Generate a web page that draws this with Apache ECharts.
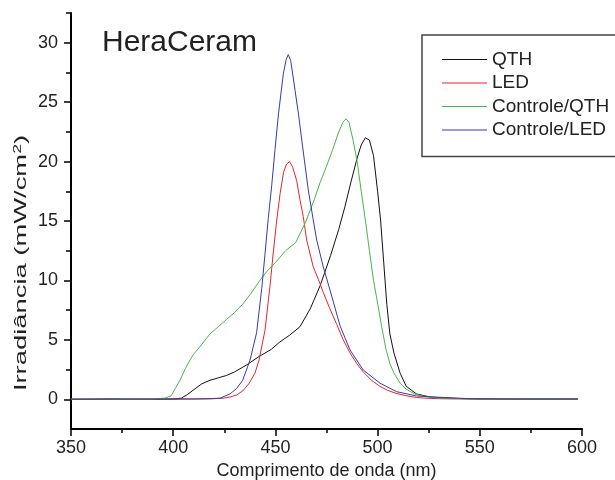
<!DOCTYPE html>
<html>
<head>
<meta charset="utf-8">
<script src="https://cdn.jsdelivr.net/npm/echarts@6/dist/echarts.min.js"></script>
<style>
  html, body { margin: 0; padding: 0; background: #fff; }
  #chart { width: 615px; height: 480px; }
</style>
</head>
<body>
<div id="chart"></div>
<script>
// wavelength (nm) / irradiance (mW/cm2)
var qthNm = [350, 370, 390, 400, 404, 407, 410, 414, 418, 422, 426, 430, 436, 442, 448, 452, 457, 462, 467, 472, 477, 481, 484, 487, 490, 492, 494, 496, 498, 500, 501.5, 503, 504.5, 506, 508, 511, 514, 519, 526, 535, 550, 570, 598];
var qthIrr = [0, 0.03, 0, 0.02, 0.1, 0.4, 0.8, 1.3, 1.6, 1.8, 2.0, 2.3, 2.9, 3.6, 4.2, 4.8, 5.4, 6.1, 7.6, 9.6, 12.1, 14.3, 16.2, 18.3, 20.3, 21.4, 22.0, 21.8, 20.5, 17.5, 15.0, 11.5, 8.0, 5.5, 3.9, 2.2, 1.1, 0.45, 0.18, 0.08, 0.03, 0.02, 0.02];

var ledNm = [350, 380, 410, 420, 425, 428, 431, 434, 437, 440, 442, 444.9, 447.4, 449, 450.6, 452.3, 454, 455.5, 457, 458.5, 460.4, 462, 463.6, 465.3, 468.5, 471, 473.4, 476.7, 480, 483.2, 486.5, 489.8, 493, 497, 501, 505, 509, 514, 519, 525, 532, 545, 570, 598];
var ledIrr = [0.01, 0, 0.02, 0.05, 0.1, 0.2, 0.36, 0.7, 1.3, 2.2, 3.3, 5.8, 9.6, 12.4, 15.0, 17.3, 19.1, 19.8, 20.0, 19.5, 18.4, 16.8, 15.4, 13.4, 11.15, 10.1, 9.0, 7.6, 6.3, 5.0, 3.9, 3.0, 2.3, 1.6, 1.1, 0.75, 0.5, 0.3, 0.15, 0.08, 0.04, 0.02, 0.02, 0.02];

var ctrlQthNm = [350, 370, 390, 396, 399, 401, 403.3, 406, 408.2, 410, 413, 418, 422, 426, 430, 434, 438, 442, 446, 450, 455, 460, 465, 469, 472, 475, 478, 481, 483, 484.5, 486, 488, 490, 492, 494, 496, 498, 500, 502, 504, 506, 508, 511, 514, 518, 524, 532, 545, 570, 598];
var ctrlQthIrr = [0.02, 0, 0.03, 0.1, 0.3, 0.9, 1.6, 2.6, 3.3, 3.8, 4.4, 5.5, 6.1, 6.7, 7.3, 8.0, 8.9, 9.9, 10.8, 11.5, 12.5, 13.2, 15.0, 16.8, 18.3, 19.6, 21.0, 22.5, 23.3, 23.6, 23.3, 21.8, 20.0, 17.5, 15.1, 12.5, 10.0, 8.1, 6.1, 4.3, 3.0, 2.2, 1.35, 0.85, 0.45, 0.2, 0.1, 0.05, 0.02, 0.02];

var ctrlLedNm = [350, 380, 410, 418, 423, 427.8, 431, 434, 437.6, 440.8, 443.3, 444.9, 446.5, 448.2, 449.8, 451.5, 453.9, 455.3, 456.3, 457.5, 459.6, 461.3, 462.9, 464.5, 466.1, 468.5, 470.2, 473.4, 476.7, 481.6, 486.5, 493, 501.2, 509.3, 519, 530.5, 545, 570, 598];
var ctrlLedIrr = [0, 0.02, 0.03, 0.05, 0.1, 0.45, 0.9, 1.6, 3.3, 5.6, 9.3, 12.2, 15.2, 18.0, 21.0, 24.0, 27.4, 28.6, 29.0, 28.5, 26.0, 24.0, 21.8, 19.7, 17.6, 15.1, 13.4, 11.15, 9.2, 6.2, 4.15, 2.46, 1.35, 0.64, 0.28, 0.17, 0.05, 0.02, 0.02];

var seriesNames = ['QTH', 'LED', 'Controle/QTH', 'Controle/LED'];
var seriesColors = ['#111111', '#e3262c', '#45b845', '#3a3aa6'];

var xTicks = [350, 400, 450, 500, 550, 600];
var xMinorTicks = [375, 425, 475, 525, 575];
var yTicks = [0, 5, 10, 15, 20, 25, 30];
var yMinorTicks = [2.5, 7.5, 12.5, 17.5, 22.5, 27.5, 32.5];

function pairs(xs, ys) {
  return xs.map(function (x, i) { return [x, ys[i]]; });
}

var font = "'Liberation Sans', Arial, sans-serif";
var chart = echarts.init(document.getElementById('chart'));

var lineData = [
  pairs(qthNm, qthIrr),
  pairs(ledNm, ledIrr),
  pairs(ctrlQthNm, ctrlQthIrr),
  pairs(ctrlLedNm, ctrlLedIrr)
];

chart.setOption({
  animation: false,
  backgroundColor: '#fff',
  title: {
    text: 'HeraCeram',
    left: 102,
    top: 28,
    padding: 0,
    textStyle: { fontFamily: font, fontSize: 30, fontWeight: 'normal', color: '#222' }
  },
  legend: {
    orient: 'vertical',
    left: 422,
    top: 35,
    padding: [15, 14, 17, 20],
    icon: 'rect',
    itemWidth: 45,
    itemHeight: 1,
    itemGap: 4.5,
    borderColor: '#444',
    borderWidth: 1.5,
    textStyle: { fontFamily: font, fontSize: 19, lineHeight: 19, color: '#222' },
    data: seriesNames
  },
  grid: { left: 71, right: 33, top: 13, bottom: 51, outerBoundsMode: 'none' },
  xAxis: [{
    type: 'value',
    min: 350,
    max: 600,
    name: 'Comprimento de onda (nm)',
    nameLocation: 'middle',
    nameGap: 33,
    nameTextStyle: { fontFamily: font, fontSize: 18, color: '#222' },
    axisLine: { onZero: false, lineStyle: { color: '#000', width: 2 } },
    axisTick: { customValues: xTicks, length: 7, lineStyle: { color: '#000', width: 1.5 } },
    axisLabel: { customValues: xTicks, margin: 10, fontFamily: font, fontSize: 18, color: '#222' },
    splitLine: { show: false }
  }, {
    type: 'value',
    position: 'bottom',
    min: 350,
    max: 600,
    axisLine: { show: false, onZero: false },
    axisTick: { customValues: xMinorTicks, length: 4, lineStyle: { color: '#000', width: 1.5 } },
    axisLabel: { show: false },
    splitLine: { show: false }
  }],
  yAxis: [{
    type: 'value',
    min: -2.5,
    max: 32.5,
    axisLine: { show: true, onZero: false, lineStyle: { color: '#000', width: 2 } },
    axisTick: { show: true, customValues: yTicks, length: 7, lineStyle: { color: '#000', width: 1.5 } },
    axisLabel: { customValues: yTicks, margin: 13, fontFamily: font, fontSize: 18, color: '#222' },
    splitLine: { show: false }
  }, {
    type: 'value',
    position: 'left',
    min: -2.5,
    max: 32.5,
    axisLine: { show: false, onZero: false },
    axisTick: { show: true, customValues: yMinorTicks, length: 5, lineStyle: { color: '#000', width: 1.5 } },
    axisLabel: { show: false },
    splitLine: { show: false }
  }],
  graphic: [{
    type: 'text',
    x: 21,
    y: 263,
    rotation: Math.PI / 2,
    scaleX: 1.61,
    style: {
      text: 'Irradiância (mW/cm{sup|2})',
      fill: '#222',
      font: '17px ' + font,
      align: 'center',
      verticalAlign: 'middle',
      rich: { sup: { fontSize: 11, verticalAlign: 'top', padding: [0, 0, 6, 0], fill: '#222' } }
    }
  }],
  series: seriesNames.map(function (name, i) {
    return {
      name: name,
      type: 'line',
      xAxisIndex: 0,
      yAxisIndex: 0,
      symbol: 'none',
      showSymbol: false,
      color: seriesColors[i],
      lineStyle: { width: 1, color: seriesColors[i] },
      data: lineData[i]
    };
  })
});
</script>
</body>
</html>
